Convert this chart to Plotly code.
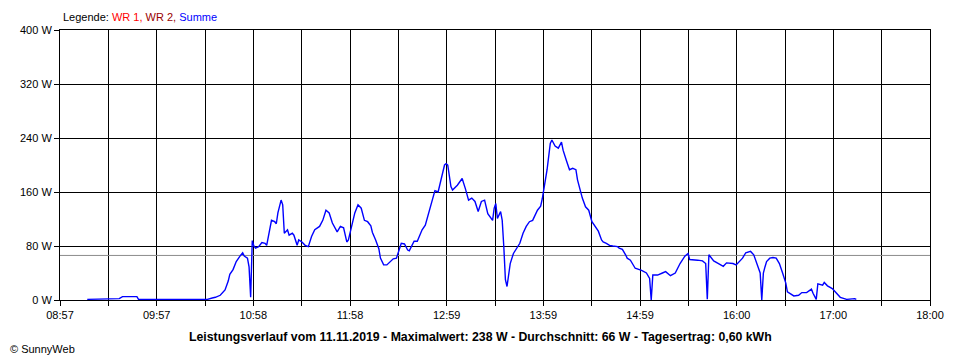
import plotly.graph_objects as go

# --- data ---
times = [
    "09:14", "09:33", "09:34", "09:36", "09:45", "09:46", "10:29", "10:32", "10:34", "10:37",
    "10:40", "10:42", "10:43", "10:45", "10:47", "10:49", "10:51", "10:52", "10:54", "10:55",
    "10:56", "10:57", "10:58", "10:59", "11:01", "11:03", "11:05", "11:06", "11:07", "11:09",
    "11:11", "11:12", "11:13", "11:15", "11:16", "11:17", "11:19", "11:20", "11:22", "11:23",
    "11:25", "11:26", "11:28", "11:30", "11:32", "11:34", "11:36", "11:39", "11:41", "11:43",
    "11:45", "11:47", "11:50", "11:52", "11:54", "11:56", "11:57", "11:59", "12:01", "12:03",
    "12:05", "12:07", "12:09", "12:11", "12:12", "12:14", "12:16", "12:17", "12:19", "12:21",
    "12:23", "12:25", "12:27", "12:28", "12:30", "12:32", "12:34", "12:35", "12:37", "12:38",
    "12:40", "12:43", "12:45", "12:47", "12:49", "12:51", "12:53", "12:55", "12:57", "12:58",
    "12:59", "13:01", "13:02", "13:05", "13:07", "13:08", "13:10", "13:12", "13:14", "13:16",
    "13:18", "13:20", "13:22", "13:24", "13:27", "13:28", "13:29", "13:30", "13:32", "13:33",
    "13:34", "13:35", "13:36", "13:38", "13:40", "13:42", "13:44", "13:46", "13:48", "13:50",
    "13:52", "13:55", "13:57", "13:58", "14:00", "14:01", "14:03", "14:04", "14:06", "14:08",
    "14:10", "14:11", "14:13", "14:15", "14:17", "14:19", "14:20", "14:23", "14:25", "14:27",
    "14:29", "14:32", "14:33", "14:35", "14:36", "14:38", "14:40", "14:42", "14:45", "14:46",
    "14:48", "14:50", "14:51", "14:53", "14:56", "15:00", "15:03", "15:05", "15:06", "15:07",
    "15:10", "15:13", "15:15", "15:18", "15:21", "15:24", "15:27", "15:29", "15:30", "15:35",
    "15:38", "15:40", "15:41", "15:42", "15:45", "15:48", "15:51", "15:53", "15:57", "15:59",
    "16:03", "16:05", "16:08", "16:10", "16:12", "16:14", "16:15", "16:16", "16:17", "16:18",
    "16:20", "16:22", "16:24", "16:26", "16:28", "16:30", "16:31", "16:35", "16:38", "16:40",
    "16:43", "16:46", "16:47", "16:49", "16:50", "16:53", "16:54", "16:56", "16:59", "17:02",
    "17:04", "17:08", "17:13", "17:14",
]
summe_w = [
    1, 1, 2, 5, 5, 1, 1, 3, 4, 7,
    15, 28, 38, 45, 57, 64, 70, 65, 62, 49,
    4, 88, 80, 77, 79, 85, 84, 81, 94, 118,
    116, 113, 129, 148, 141, 99, 104, 96, 99, 96,
    81, 89, 86, 81, 79, 94, 104, 109, 118, 133,
    129, 114, 101, 109, 107, 86, 89, 109, 129, 141,
    136, 118, 116, 110, 100, 89, 76, 62, 52, 52,
    57, 61, 62, 70, 84, 83, 74, 73, 81, 87,
    87, 104, 111, 129, 148, 162, 160, 178, 200, 202,
    200, 168, 163, 170, 178, 180, 165, 148, 151, 146,
    131, 146, 148, 128, 118, 136, 143, 121, 131, 118,
    79, 30, 20, 54, 69, 77, 84, 99, 109, 116,
    118, 133, 139, 150, 175, 193, 232, 237, 228, 225,
    234, 222, 207, 193, 195, 193, 178, 151, 138, 133,
    116, 104, 102, 89, 86, 84, 81, 80, 79, 77,
    75, 67, 62, 59, 47, 44, 40, 32, 0, 37,
    37, 40, 42, 36, 40, 54, 65, 69, 60, 59,
    58, 54, 1, 67, 58, 54, 50, 55, 54, 52,
    62, 70, 72, 67, 54, 40, 0, 40, 49, 57,
    62, 63, 62, 54, 40, 25, 12, 6, 7, 11,
    11, 16, 10, 1, 24, 22, 26, 21, 17, 10,
    4, 1, 2, 1,
]
average_w = 66
x_start, x_end = "08:57", "18:00"
x_labels = ["08:57", "09:57", "10:58", "11:58", "12:59", "13:59", "14:59", "16:00", "17:00", "18:00"]
y_ticks = [0, 80, 160, 240, 320, 400]
y_labels = ["0 W", "80 W", "160 W", "240 W", "320 W", "400 W"]
title_text = ("Leistungsverlauf vom 11.11.2019 - Maximalwert: 238 W - "
              "Durchschnitt: 66 W - Tagesertrag: 0,60 kWh")


def to_min(t):
    h, m = t.split(":")
    return int(h) * 60 + int(m)


x0, x1 = to_min(x_start), to_min(x_end)
xs = [to_min(t) for t in times]
n_div = 2 * (len(x_labels) - 1)
tickvals = [x0 + i * (x1 - x0) / n_div for i in range(n_div + 1)]
ticktext = []
for i in range(n_div + 1):
    ticktext.append(x_labels[i // 2] if i % 2 == 0 else "")

FONT = "Liberation Sans, Arial, sans-serif"

fig = go.Figure()
fig.add_trace(go.Scatter(
    x=[x0, x1], y=[average_w, average_w], mode="lines",
    line=dict(color="#8c8c8c", width=1), hoverinfo="skip", showlegend=False,
))
fig.add_trace(go.Scatter(
    x=xs, y=summe_w, mode="lines", name="Summe",
    line=dict(color="#0000ff", width=1.4), showlegend=False,
))

# the page body has an 8px margin, so the figure's own margins are reduced by 8px
fig.update_layout(
    width=960, height=360,
    margin=dict(l=52, r=38, t=22, b=68),
    paper_bgcolor="white", plot_bgcolor="white",
    font=dict(family=FONT, size=11, color="black"),
    showlegend=False,
    xaxis=dict(
        range=[x0, x1], tickmode="array", tickvals=tickvals, ticktext=ticktext,
        showgrid=True, gridcolor="black", gridwidth=1,
        showline=True, linecolor="black", linewidth=1, mirror=True,
        ticks="outside", ticklen=5, tickcolor="black", zeroline=False,
        fixedrange=True,
    ),
    yaxis=dict(
        range=[0, 400], tickmode="array", tickvals=y_ticks, ticktext=y_labels,
        showgrid=True, gridcolor="black", gridwidth=1,
        showline=True, linecolor="black", linewidth=1, mirror=True,
        ticks="outside", ticklen=5, tickcolor="black", zeroline=False,
        fixedrange=True,
    ),
    annotations=[
        dict(xref="paper", yref="paper", x=0.001, y=1.048, xanchor="left", yanchor="middle",
             showarrow=False, font=dict(family=FONT, size=11),
             text="Legende: <span style='color:#ff0000'>WR 1,</span> "
                  "<span style='color:#990000'>WR 2,</span> "
                  "<span style='color:#0000ff'>Summe</span>"),
        dict(xref="paper", yref="paper", x=0.4828, y=-0.137, xanchor="center", yanchor="middle",
             showarrow=False, font=dict(family=FONT, size=12.3, color="black"),
             text="<b>" + title_text + "</b>"),
        dict(xref="paper", yref="paper", x=-0.0598, y=-0.181, xanchor="left", yanchor="middle",
             showarrow=False, font=dict(family=FONT, size=11),
             text="© SunnyWeb"),
    ],
)

fig.write_html("out.html")
